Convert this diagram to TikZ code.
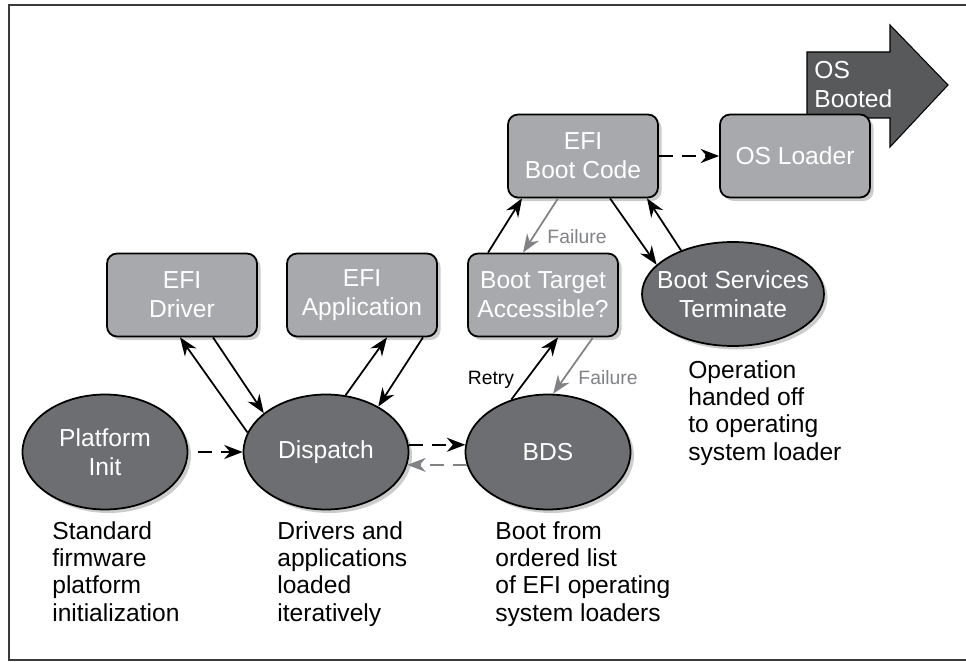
\documentclass[tikz,border=0pt]{standalone}
\usepackage{fontspec}
\setmainfont{Liberation Sans}
\usetikzlibrary{shapes.geometric, arrows.meta, calc, shadows}
\definecolor{EFILightGray}{HTML}{A7A9AC}
\definecolor{EFIDarkGray}{HTML}{6D6E71}
\definecolor{EFIArrowGray}{HTML}{58595B}
\definecolor{EFIFailGray}{HTML}{808285}
\definecolor{EFIFrame}{HTML}{3A3A3C}
\tikzset{
    codebox/.style={
        draw=black,
        line width=1pt,
        fill=EFILightGray,
        rounded corners=0.2cm,
        minimum width=3cm,
        minimum height=1.66cm,
        text=white,
        font=\fontsize{14}{16.5}\selectfont,
        align=center,
        drop shadow={shadow xshift=2pt, shadow yshift=-2pt, opacity=0.2, fill=black}
    },
    stage/.style={
        ellipse,
        draw=black,
        line width=1pt,
        fill=EFIDarkGray,
        inner sep=0pt,
        minimum width=3.3cm,
        minimum height=2.3cm,
        drop shadow={shadow xshift=2pt, shadow yshift=-2pt, opacity=0.2, fill=black},
        label={[stagetext]center:{#1}}
    },
    stagetext/.style={
        text=white,
        font=\fontsize{14}{16.5}\selectfont,
        align=center
    },
    note/.style={
        anchor=north west,
        inner sep=0pt,
        align=left,
        font=\fontsize{14}{15.6}\selectfont
    },
    smalllabel/.style={
        inner sep=1pt,
        font=\fontsize{11}{13}\selectfont
    },
    arrow/.style={
        ->,
        >={Stealth[length=10.5pt, width=8pt]},
        line width=1pt,
        black
    },
    dasharrow/.style={
        arrow,
        dash pattern=on 8pt off 5pt
    },
    failarrow/.style={
        arrow,
        EFIFailGray
    }
}
\begin{document}
\begin{tikzpicture}[x=0.02cm, y=-0.02cm]
    \useasboundingbox (0,0) rectangle (966,662);

    % Frame
    \draw[EFIFrame, line width=1.1pt] (966,5) -- (9,5) -- (9,660) -- (966,660);

    % OS booted arrow
    \draw[fill=EFIArrowGray, line width=0.6pt] (807,52) -- (890,52) -- (890,25) -- (948,85)
        -- (890,147) -- (890,118) -- (807,118) -- cycle;
    \node[anchor=north west, inner sep=0pt, align=left, text=white,
          font=\fontsize{14}{16.5}\selectfont] (booted) at (814,61) {OS\\Booted};

    % Boxes
    \node[codebox] (bootcode) at (583,156) {EFI\\Boot Code};
    \node[codebox] (osloader) at (795,156) {OS Loader};
    \node[codebox] (driver) at (182,295) {EFI\\Driver};
    \node[codebox] (app) at (362,295) {EFI\\Application};
    \node[codebox] (target) at (543,295) {Boot Target\\Accessible?};

    % Phases
    \node[stage={Platform\\Init}] (init) at (105,452) {};
    \node[stage={Dispatch}] (dispatch) at (326,452) {};
    \node[stage={BDS}] (bds) at (548,452) {};
    \node[stage={Boot Services\\Terminate}, minimum width=3.64cm, minimum height=2.08cm] (bst) at (733,294) {};

    % Notes
    \node[note] (initnote) at (52,521) {Standard\\firmware\\platform\\initialization};
    \node[note] (dispnote) at (277,521) {Drivers and\\applications\\loaded\\iteratively};
    \node[note] (bdsnote) at (495,521) {Boot from\\ordered list\\of EFI operating\\system loaders};
    \node[note] (bstnote) at (688,360) {Operation\\handed off\\to operating\\system loader};

    % Flow
    \draw[dasharrow] ($(init.east)+(10,0)$) -- (dispatch.west);
    \draw[dasharrow] (dispatch.5) -- (bds.175);
    \draw[dasharrow, EFIFailGray] (bds.189) -- (dispatch.351);
    \draw[dasharrow] (bootcode.east) -- (osloader.west);

    % Driver and application loading
    \draw[arrow] (dispatch.166) -- ($(driver.south)+(-2,0)$);
    \draw[arrow] ($(driver.south)+(31,0)$) -- (dispatch.148);
    \draw[arrow] (dispatch.71) -- ($(app.south)+(25,0)$);
    \draw[arrow] ($(app.south)+(61,0)$) -- (dispatch.41);

    % Boot target
    \draw[arrow] (bds.125) -- ($(target.south)+(15,0)$);
    \draw[failarrow] ($(target.south)+(50,0)$) -- (bds.85);
    \draw[arrow] ($(target.north)+(-55,0)$) -- ($(bootcode.south)+(-61,0)$);
    \draw[failarrow] ($(bootcode.south)+(-25,0)$) -- ($(target.north)+(-20,0)$);
    \draw[arrow] ($(bootcode.south)+(27,0)$) -- (bst.159);
    \draw[arrow] (bst.140) -- ($(bootcode.south)+(64,0)$);

    % Labels
    \node[smalllabel] (retry) at (491,380) {Retry};
    \node[smalllabel, text=EFIFailGray] (fail1) at (608,378) {Failure};
    \node[smalllabel, text=EFIFailGray] (fail2) at (577,237) {Failure};
\end{tikzpicture}
\end{document}
